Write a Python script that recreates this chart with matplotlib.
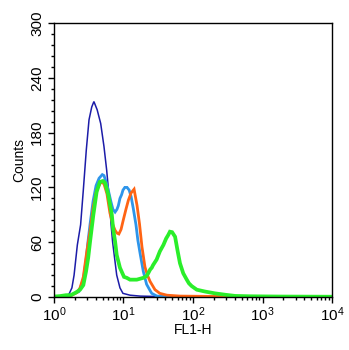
import numpy as np
import matplotlib
matplotlib.use("Agg")
import matplotlib.pyplot as plt
from matplotlib.ticker import LogLocator, MultipleLocator, NullFormatter

plt.rcParams['font.family'] = ['Liberation Sans', 'DejaVu Sans']
plt.rcParams['mathtext.fontset'] = 'custom'
plt.rcParams['mathtext.rm'] = 'Liberation Sans'

# Histogram data on a 1024-channel, 4-decade log scale (channel -> FL1-H = 10**(ch/256))
isotype_ch = [0, 22, 37, 55, 66, 74, 86, 98, 108, 119, 129, 139, 147, 159, 172, 184, 194,
              203, 210, 216, 231, 243, 254, 280, 317, 390, 538, 1023]
isotype_counts = [0, 0.5, 1, 3, 10, 24, 57, 79, 117, 161, 194, 208, 214, 205, 190, 165, 139,
                  110, 80, 60, 24, 10, 4, 2, 1, 0.5, 0, 0]

sample_a_ch = [0, 29, 59, 77, 92, 108, 118, 125, 133, 144, 155, 166, 178, 184, 192, 200, 210,
               217, 225, 232, 237, 243, 249, 254, 261, 269, 277, 284, 292, 302, 309, 317, 329,
               341, 354, 360, 379, 428, 538, 1023]
sample_a_counts = [0, 0.5, 2, 4, 6, 19, 40, 60, 80, 105, 122, 130, 134, 133, 126, 117, 104,
                   96, 93, 96, 100, 108, 112, 117, 120, 120, 117, 110, 97, 79, 62, 48, 28,
                   14, 7, 4, 1, 0.5, 0.3, 0]

sample_b_ch = [0, 41, 66, 85, 96, 108, 120, 133, 145, 157, 173, 184, 195, 206, 217, 225, 232,
               239, 247, 255, 265, 274, 284, 295, 306, 315, 324, 335, 344, 354, 372, 390, 416,
               464, 630, 685, 1023]
sample_b_counts = [0, 0.5, 2, 5, 10, 22, 48, 73, 99, 117, 126, 124, 113, 92, 79, 73, 70,
                   69, 74, 84, 96, 106, 114, 118, 100, 80, 55, 33, 24, 17, 8, 4, 2,
                   1, 0.5, 0, 0]

sample_c_ch = [0, 22, 44, 62, 81, 96, 108, 118, 126, 133, 145, 157, 169, 180, 188, 200, 213,
               218, 225, 231, 237, 243, 249, 258, 268, 280, 292, 305, 317, 329, 341, 347, 354,
               360, 365, 378, 390, 403, 413, 421, 427, 435, 446, 455, 464, 476, 489, 497, 507,
               526, 556, 593, 630, 667, 722, 832, 1023]
sample_c_counts = [0.5, 1, 2, 2, 5, 8, 13, 28, 43, 61, 90, 115, 126, 127, 125, 112, 90,
                   74, 61, 46, 39, 32, 28, 22, 21, 19, 19, 19, 20, 21, 23, 26, 30,
                   32, 35, 41, 50, 57, 64, 68, 71.5, 71, 66, 51, 37, 26, 19, 15, 12,
                   8, 6, 4, 2.5, 1.2, 0.8, 0.5, 0.3]

series = [
    (isotype_ch, isotype_counts, '#1c1ca8', 1.1),
    (sample_a_ch, sample_a_counts, '#2e95ea', 2.0),
    (sample_b_ch, sample_b_counts, '#ff6414', 2.0),
    (sample_c_ch, sample_c_counts, '#2aee2a', 2.7),
]

fig = plt.figure(figsize=(3.49, 3.50), dpi=100)
ax = fig.add_axes([0.1547, 0.1514, 0.7966, 0.7829])

for ch, counts, color, lw in series:
    fl1 = 10 ** (np.asarray(ch, dtype=float) / 256.0)
    ax.plot(fl1, counts, color=color, lw=lw, solid_joinstyle='miter')

ax.set_xscale('log')
ax.set_xlim(1, 1e4)
ax.set_ylim(0, 300)

ax.xaxis.set_major_locator(LogLocator(base=10, numticks=10))
ax.xaxis.set_minor_locator(LogLocator(base=10, subs=np.arange(2, 10), numticks=20))
ax.xaxis.set_minor_formatter(NullFormatter())
ax.yaxis.set_major_locator(MultipleLocator(60))
ax.yaxis.set_minor_locator(MultipleLocator(12))

ax.tick_params(axis='both', which='major', direction='out', length=4, width=1,
               labelsize=11, color='black')
ax.tick_params(axis='both', which='minor', direction='out', length=2.5, width=1)
ax.tick_params(axis='x', which='major', pad=2)
ax.tick_params(axis='y', which='major', pad=3)
for lab in ax.get_yticklabels():
    lab.set_rotation(90)
    lab.set_va('center')

for sp in ax.spines.values():
    sp.set_linewidth(1.0)

ax.set_xlabel('FL1-H', fontsize=10, labelpad=-1)
ax.set_ylabel('Counts', fontsize=10, labelpad=3)

fig.savefig('out.png', dpi=100)
